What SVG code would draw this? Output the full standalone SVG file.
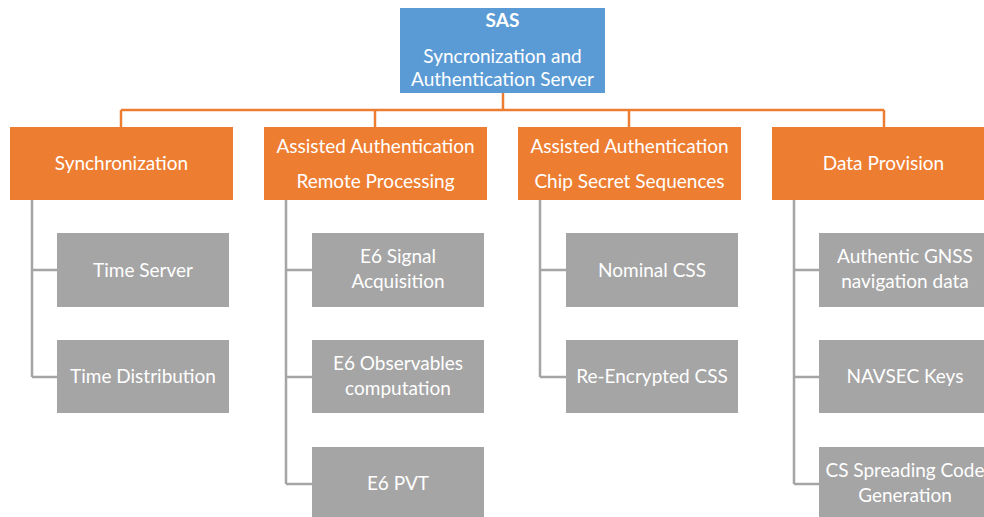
<svg xmlns="http://www.w3.org/2000/svg" width="984" height="517" viewBox="0 0 984 517">
  <style>
    .root { fill: #5B9BD5; }
    .cat { fill: #ED7D31; }
    .leaf { fill: #A5A5A5; }
    text { font-family: Lato, "Liberation Sans", sans-serif; font-size: 19px; fill: #FFFFFF; text-anchor: middle; }
    .bold { font-weight: bold; }
    .top { fill: none; stroke: #ED7D31; stroke-width: 2.5; }
    .sub { fill: none; stroke: #A5A5A5; stroke-width: 2.5; }
  </style>
  <rect width="984" height="517" fill="#FFFFFF"/>

  <!-- connectors -->
  <g id="connectors">
    <path class="top" d="M503 93 V110 M121 110 H884 M121 110 V127 M375 110 V127 M629 110 V127 M884 110 V127"/>
    <path class="sub" d="M32 200 V377 M32 270 H57 M32 377 H57"/>
    <path class="sub" d="M286 200 V484 M286 270 H312 M286 377 H312 M286 484 H312"/>
    <path class="sub" d="M540 200 V377 M540 270 H566 M540 377 H566"/>
    <path class="sub" d="M794 200 V484 M794 270 H819 M794 377 H819 M794 484 H819"/>
  </g>

  <!-- root -->
  <g id="sas">
    <rect class="root" x="400" y="8" width="205" height="85"/>
    <text class="bold" x="502.5" y="27">SAS</text>
    <text x="502.5" y="63">Syncronization and</text>
    <text x="502.5" y="86">Authentication Server</text>
  </g>

  <!-- categories -->
  <g id="synchronization">
    <rect class="cat" x="10" y="127" width="223" height="73"/>
    <text x="121.5" y="170">Synchronization</text>
  </g>
  <g id="remote-processing">
    <rect class="cat" x="264" y="127" width="223" height="73"/>
    <text x="375.5" y="153">Assisted Authentication</text>
    <text x="375.5" y="188">Remote Processing</text>
  </g>
  <g id="chip-secret-sequences">
    <rect class="cat" x="518" y="127" width="223" height="73"/>
    <text x="629.5" y="153">Assisted Authentication</text>
    <text x="629.5" y="188">Chip Secret Sequences</text>
  </g>
  <g id="data-provision">
    <rect class="cat" x="772" y="127" width="223" height="73"/>
    <text x="883.5" y="170">Data Provision</text>
  </g>

  <!-- synchronization leaves -->
  <g id="time-server">
    <rect class="leaf" x="57" y="233" width="172" height="74"/>
    <text x="143" y="277">Time Server</text>
  </g>
  <g id="time-distribution">
    <rect class="leaf" x="57" y="340" width="172" height="73"/>
    <text x="143" y="383">Time Distribution</text>
  </g>

  <!-- remote processing leaves -->
  <g id="e6-signal-acquisition">
    <rect class="leaf" x="312" y="233" width="172" height="74"/>
    <text x="398" y="263">E6 Signal</text>
    <text x="398" y="288">Acquisition</text>
  </g>
  <g id="e6-observables">
    <rect class="leaf" x="312" y="340" width="172" height="73"/>
    <text x="398" y="370">E6 Observables</text>
    <text x="398" y="395">computation</text>
  </g>
  <g id="e6-pvt">
    <rect class="leaf" x="312" y="447" width="172" height="74"/>
    <text x="398" y="490">E6 PVT</text>
  </g>

  <!-- chip secret sequence leaves -->
  <g id="nominal-css">
    <rect class="leaf" x="566" y="233" width="172" height="74"/>
    <text x="652" y="277">Nominal CSS</text>
  </g>
  <g id="re-encrypted-css">
    <rect class="leaf" x="566" y="340" width="172" height="73"/>
    <text x="652" y="383">Re-Encrypted CSS</text>
  </g>

  <!-- data provision leaves -->
  <g id="authentic-gnss">
    <rect class="leaf" x="819" y="233" width="172" height="74"/>
    <text x="905" y="263">Authentic GNSS</text>
    <text x="905" y="288">navigation data</text>
  </g>
  <g id="navsec-keys">
    <rect class="leaf" x="819" y="340" width="172" height="73"/>
    <text x="905" y="383">NAVSEC Keys</text>
  </g>
  <g id="cs-spreading-code">
    <rect class="leaf" x="819" y="447" width="172" height="74"/>
    <text x="905" y="477">CS Spreading Code</text>
    <text x="905" y="502">Generation</text>
  </g>
</svg>
